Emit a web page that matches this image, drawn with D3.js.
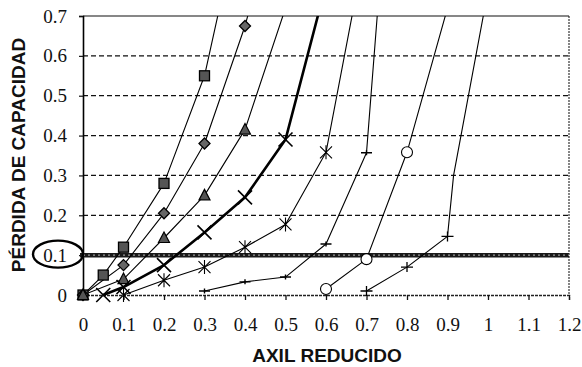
<!DOCTYPE html>
<html><head><meta charset="utf-8">
<script src="https://cdn.jsdelivr.net/npm/d3@7"></script>
<style>body{margin:0;background:#fff}svg{display:block}</style>
</head><body><svg id="c" width="582" height="367"></svg>
<script>
// ---- data ----
const xTickValues = [0,0.1,0.2,0.3,0.4,0.5,0.6,0.7,0.8,0.9,1,1.1,1.2];
const xTickLabels = ["0","0.1","0.2","0.3","0.4","0.5","0.6","0.7","0.8","0.9","1","1.1","1.2"];
const yTickValues = [0,0.1,0.2,0.3,0.4,0.5,0.6,0.7];
const yTickLabels = ["0","0.1","0.2","0.3","0.4","0.5","0.6","0.7"];
const thresholdValue = 0.1;
const xTitle = "AXIL REDUCIDO";
const yTitle = "PÉRDIDA DE CAPACIDAD";

const squareX   = [0, 0.05, 0.1, 0.2, 0.3, 0.337];
const squareY   = [0, 0.05, 0.12, 0.28, 0.55, 0.72];
const diamondX  = [0, 0.1, 0.2, 0.3, 0.4, 0.412];
const diamondY  = [0, 0.075, 0.205, 0.38, 0.675, 0.72];
const triangleX = [0, 0.1, 0.2, 0.3, 0.4, 0.5];
const triangleY = [0, 0.04, 0.143, 0.25, 0.415, 0.72];
const crossX    = [0.05, 0.1, 0.2, 0.3, 0.4, 0.5, 0.585];
const crossY    = [0, 0.02, 0.075, 0.157, 0.245, 0.39, 0.72];
const starX     = [0.1, 0.2, 0.3, 0.4, 0.5, 0.6, 0.668];
const starY     = [0, 0.037, 0.07, 0.12, 0.177, 0.358, 0.72];
const dashX     = [0.3, 0.4, 0.5, 0.6, 0.7, 0.728];
const dashY     = [0.01, 0.033, 0.045, 0.128, 0.357, 0.72];
const circleX   = [0.6, 0.7, 0.8, 0.9];
const circleY   = [0.015, 0.09, 0.358, 0.72];
const plusX     = [0.7, 0.8, 0.9, 0.915, 0.992];
const plusY     = [0.01, 0.07, 0.147, 0.3, 0.72];
const plusMarked = [true, true, true, false, false];

const series = [
  {x: squareX, y: squareY, m: "square"},
  {x: diamondX, y: diamondY, m: "diamond"},
  {x: triangleX, y: triangleY, m: "triangle"},
  {x: crossX, y: crossY, m: "x", thick: true},
  {x: starX, y: starY, m: "star"},
  {x: dashX, y: dashY, m: "dash"},
  {x: circleX, y: circleY, m: "circle"},
  {x: plusX, y: plusY, m: "plus", marked: plusMarked}
];

// ---- layout ----
const W = 582, H = 367;
const margin = {left: 83, right: 13, top: 16, bottom: 72};
const x = d3.scaleLinear().domain([0, 1.2]).range([margin.left, W - margin.right]);
const y = d3.scaleLinear().domain([0, 0.7]).range([H - margin.bottom, margin.top]);
const svg = d3.select("#c");
const serif = "'Liberation Serif','Times New Roman',serif";
const sans = "'Liberation Sans',Arial,sans-serif";

svg.append("defs").append("clipPath").attr("id", "clip")
  .append("rect").attr("x", x(0)).attr("y", y(0.7)).attr("width", x(1.2) - x(0)).attr("height", y(0) - y(0.7) + 2);

// gridlines
svg.append("g").selectAll("line")
  .data(yTickValues.filter(v => v > 0 && v < 0.7 && v !== thresholdValue))
  .join("line")
  .attr("x1", x(0)).attr("x2", x(1.2))
  .attr("y1", d => y(d)).attr("y2", d => y(d))
  .attr("stroke", "#111").attr("stroke-width", 1.3).attr("stroke-dasharray", "5,3");

// frame top & right
svg.append("line").attr("x1", x(0)).attr("x2", x(1.2)).attr("y1", y(0.7)).attr("y2", y(0.7))
  .attr("stroke", "#111").attr("stroke-width", 1.2);
svg.append("line").attr("x1", x(1.2)).attr("x2", x(1.2)).attr("y1", y(0.7)).attr("y2", y(0))
  .attr("stroke", "#222").attr("stroke-width", 1.1).attr("stroke-dasharray", "2,1");

// x axis
const xAxis = d3.axisBottom(x).tickValues(xTickValues).tickFormat((d, i) => xTickLabels[i]).tickSize(5).tickPadding(18);
const gx = svg.append("g").attr("transform", `translate(0,${y(0)})`).call(xAxis);
gx.attr("font-family", null).attr("font-size", null);
gx.select(".domain").attr("stroke", "#222").attr("stroke-width", 1.3).attr("stroke-dasharray", "3,1");
gx.selectAll(".tick line").attr("stroke", "#111").attr("stroke-width", 1.3);
gx.selectAll(".tick text").style("font-family", serif).style("font-size", "19px").attr("fill", "#111");

// y axis
const yAxis = d3.axisLeft(y).tickValues(yTickValues).tickFormat((d, i) => yTickLabels[i]).tickSize(4).tickPadding(12);
const gy = svg.append("g").attr("transform", `translate(${x(0)},0)`).call(yAxis);
gy.attr("font-family", null).attr("font-size", null);
gy.select(".domain").attr("stroke", "#000").attr("stroke-width", 1.6);
gy.selectAll(".tick line").attr("stroke", "#111").attr("stroke-width", 1.2);
gy.selectAll(".tick text").style("font-family", serif).style("font-size", "19px").attr("fill", "#111");

// threshold line
svg.append("line").attr("x1", x(0) - 3).attr("x2", x(1.2)).attr("y1", y(thresholdValue)).attr("y2", y(thresholdValue))
  .attr("stroke", "#1a1a1a").attr("stroke-width", 4.5);
svg.append("line").attr("x1", x(0)).attr("x2", x(1.2)).attr("y1", y(thresholdValue)).attr("y2", y(thresholdValue))
  .attr("stroke", "#9a9a9a").attr("stroke-width", 1.2).attr("stroke-dasharray", "2,3");

// ellipse around the 0.1 label
svg.append("ellipse").attr("cx", x(0) - 25).attr("cy", y(thresholdValue) - 1)
  .attr("rx", 25).attr("ry", 13.5).attr("fill", "none").attr("stroke", "#000").attr("stroke-width", 2.4);

// series lines
const lineGen = d3.line().x(d => x(d[0])).y(d => y(d[1])).curve(d3.curveLinear);
const gLines = svg.append("g").attr("clip-path", "url(#clip)");
series.forEach(s => {
  const pts = s.x.map((v, i) => [v, s.y[i]]);
  gLines.append("path").attr("d", lineGen(pts)).attr("fill", "none")
    .attr("stroke", "#000").attr("stroke-width", s.thick ? 2.6 : 1.1).attr("stroke-linejoin", "round");
});

// markers
const gM = svg.append("g");
function drawMarker(g, type, cx, cy) {
  const t = g.append("g").attr("transform", `translate(${cx},${cy})`);
  if (type === "square") {
    t.append("rect").attr("x", -5).attr("y", -5).attr("width", 10).attr("height", 10)
      .attr("fill", "#555").attr("stroke", "#000").attr("stroke-width", 1.3);
  } else if (type === "diamond") {
    t.append("path").attr("d", "M0,-5.5L5.5,0L0,5.5L-5.5,0Z").attr("fill", "#666").attr("stroke", "#000").attr("stroke-width", 1.3);
  } else if (type === "triangle") {
    t.append("path").attr("d", "M0,-6L5.5,4.5L-5.5,4.5Z").attr("fill", "#555").attr("stroke", "#000").attr("stroke-width", 1.2);
  } else if (type === "x") {
    t.append("path").attr("d", "M-7,-7L7,7M-7,7L7,-7").attr("stroke", "#000").attr("stroke-width", 1.6);
  } else if (type === "star") {
    t.append("path").attr("d", "M-6,-6L6,6M-6,6L6,-6M0,-7L0,7").attr("stroke", "#000").attr("stroke-width", 1.1);
  } else if (type === "dash") {
    t.append("path").attr("d", "M-5.5,0L5.5,0M0,-2.5L0,2.5").attr("stroke", "#000").attr("stroke-width", 1.4);
  } else if (type === "circle") {
    t.append("circle").attr("r", 5.5).attr("fill", "#fff").attr("stroke", "#000").attr("stroke-width", 1.1);
  } else if (type === "plus") {
    t.append("path").attr("d", "M-6,0L6,0M0,-5L0,5").attr("stroke", "#000").attr("stroke-width", 1.3);
  }
}
series.forEach(s => {
  s.x.forEach((v, i) => {
    if (s.y[i] > 0.7) return;
    if (s.marked && !s.marked[i]) return;
    drawMarker(gM, s.m, x(v), y(s.y[i]));
  });
});

// titles
svg.append("text").attr("x", (x(0) + x(1.2)) / 2 + 1).attr("y", 362)
  .attr("text-anchor", "middle").style("font-family", sans)
  .style("font-weight", "bold").style("font-size", "19px").attr("fill", "#111").text(xTitle);
svg.append("text").attr("transform", `translate(25,155) rotate(-90)`)
  .attr("text-anchor", "middle").style("font-family", sans)
  .style("font-weight", "bold").style("font-size", "19px").attr("fill", "#111").text(yTitle);
</script>
</body></html>
